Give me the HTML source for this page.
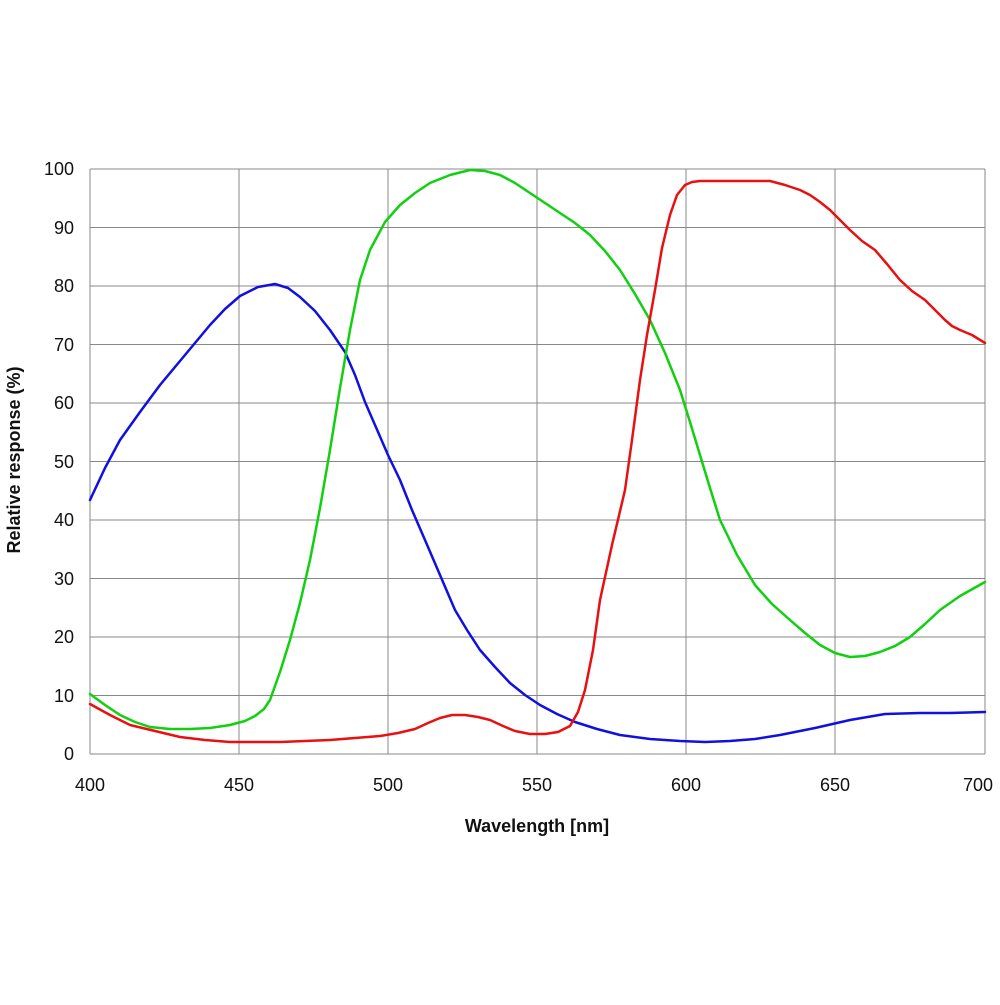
<!DOCTYPE html>
<html><head><style>body{margin:0;background:#fff}</style></head><body>
<svg width="1000" height="1000" viewBox="0 0 1000 1000" xmlns="http://www.w3.org/2000/svg" font-family="Liberation Sans, sans-serif">
<rect width="1000" height="1000" fill="#fff"/>
<g stroke="#888" stroke-width="1">
<line x1="90" y1="169" x2="985" y2="169"/><line x1="90" y1="227.5" x2="985" y2="227.5"/><line x1="90" y1="286" x2="985" y2="286"/><line x1="90" y1="344.5" x2="985" y2="344.5"/><line x1="90" y1="403" x2="985" y2="403"/><line x1="90" y1="461.5" x2="985" y2="461.5"/><line x1="90" y1="520" x2="985" y2="520"/><line x1="90" y1="578.5" x2="985" y2="578.5"/><line x1="90" y1="637" x2="985" y2="637"/><line x1="90" y1="695.5" x2="985" y2="695.5"/><line x1="90" y1="754" x2="985" y2="754"/>
<line x1="90" y1="169" x2="90" y2="754"/><line x1="239" y1="169" x2="239" y2="754"/><line x1="388" y1="169" x2="388" y2="754"/><line x1="537" y1="169" x2="537" y2="754"/><line x1="686" y1="169" x2="686" y2="754"/><line x1="835" y1="169" x2="835" y2="754"/><line x1="985" y1="169" x2="985" y2="754"/>
</g>
<g font-size="18" fill="#111" text-anchor="end">
<text x="74" y="175">100</text><text x="74" y="234">90</text><text x="74" y="292">80</text><text x="74" y="351">70</text><text x="74" y="409">60</text><text x="74" y="468">50</text><text x="74" y="526">40</text><text x="74" y="585">30</text><text x="74" y="643">20</text><text x="74" y="702">10</text><text x="74" y="760">0</text>
</g>
<g font-size="18" fill="#111" text-anchor="middle">
<text x="90" y="791">400</text><text x="239" y="791">450</text><text x="388" y="791">500</text><text x="537" y="791">550</text><text x="686" y="791">600</text><text x="835" y="791">650</text><text x="978" y="791">700</text>
<text x="537" y="832" font-weight="bold">Wavelength [nm]</text>
<text transform="translate(20,460) rotate(-90)" font-weight="bold">Relative response (%)</text>
</g>
<g fill="none" stroke-width="2.5" stroke-linejoin="round" stroke-linecap="round">
<polyline stroke="#1010e0" points="90,500 105,468 120,440 140,412 160,385 185,355 210,325 225,309 240,296 258,287 275,284 288,288 300,297 315,311 330,330 345,352 355,375 365,402 375,425 388,455 400,480 412,510 425,540 440,575 455,610 467,630 480,650 495,667 510,683 525,695 540,705 557,714 575,722 597,729 620,735 650,739 680,741 705,742 730,741 755,739 780,735 815,728 850,720 885,714 920,713 950,713 985,712"/>
<polyline stroke="#10d010" points="90,694 105,705 120,715 135,722 150,727 170,729 190,729 210,728 230,725 245,721 255,716 264,709 270,700 280,672 290,640 300,603 310,560 320,508 330,450 340,388 350,330 360,280 370,250 385,222 400,205 415,193 430,183 450,175 470,170 485,171 500,175 515,183 530,193 545,203 560,213 575,223 590,235 605,251 620,270 635,294 650,320 665,353 680,390 690,422 700,455 710,488 720,520 737,555 755,585 772,604 790,620 805,633 820,645 835,653 850,657 865,656 880,652 895,646 910,637 925,624 940,610 960,596 985,582"/>
<polyline stroke="#e81010" points="90,704 110,715 130,725 155,731 180,737 205,740 230,742 255,742 280,742 305,741 330,740 355,738 380,736 398,733 415,729 428,723 440,718 452,715 465,715 478,717 490,720 503,726 515,731 530,734 545,734 558,732 570,726 578,712 585,690 593,650 600,600 612,545 625,490 632,440 640,380 647,335 655,290 662,248 670,215 677,195 685,185 692,182 700,181 715,181 730,181 750,181 770,181 785,185 800,190 810,195 820,202 830,210 840,220 850,230 862,241 875,250 887,264 900,280 912,291 925,300 935,310 945,320 952,326 960,330 972,335 985,343"/>
</g>
</svg>
</body></html>
